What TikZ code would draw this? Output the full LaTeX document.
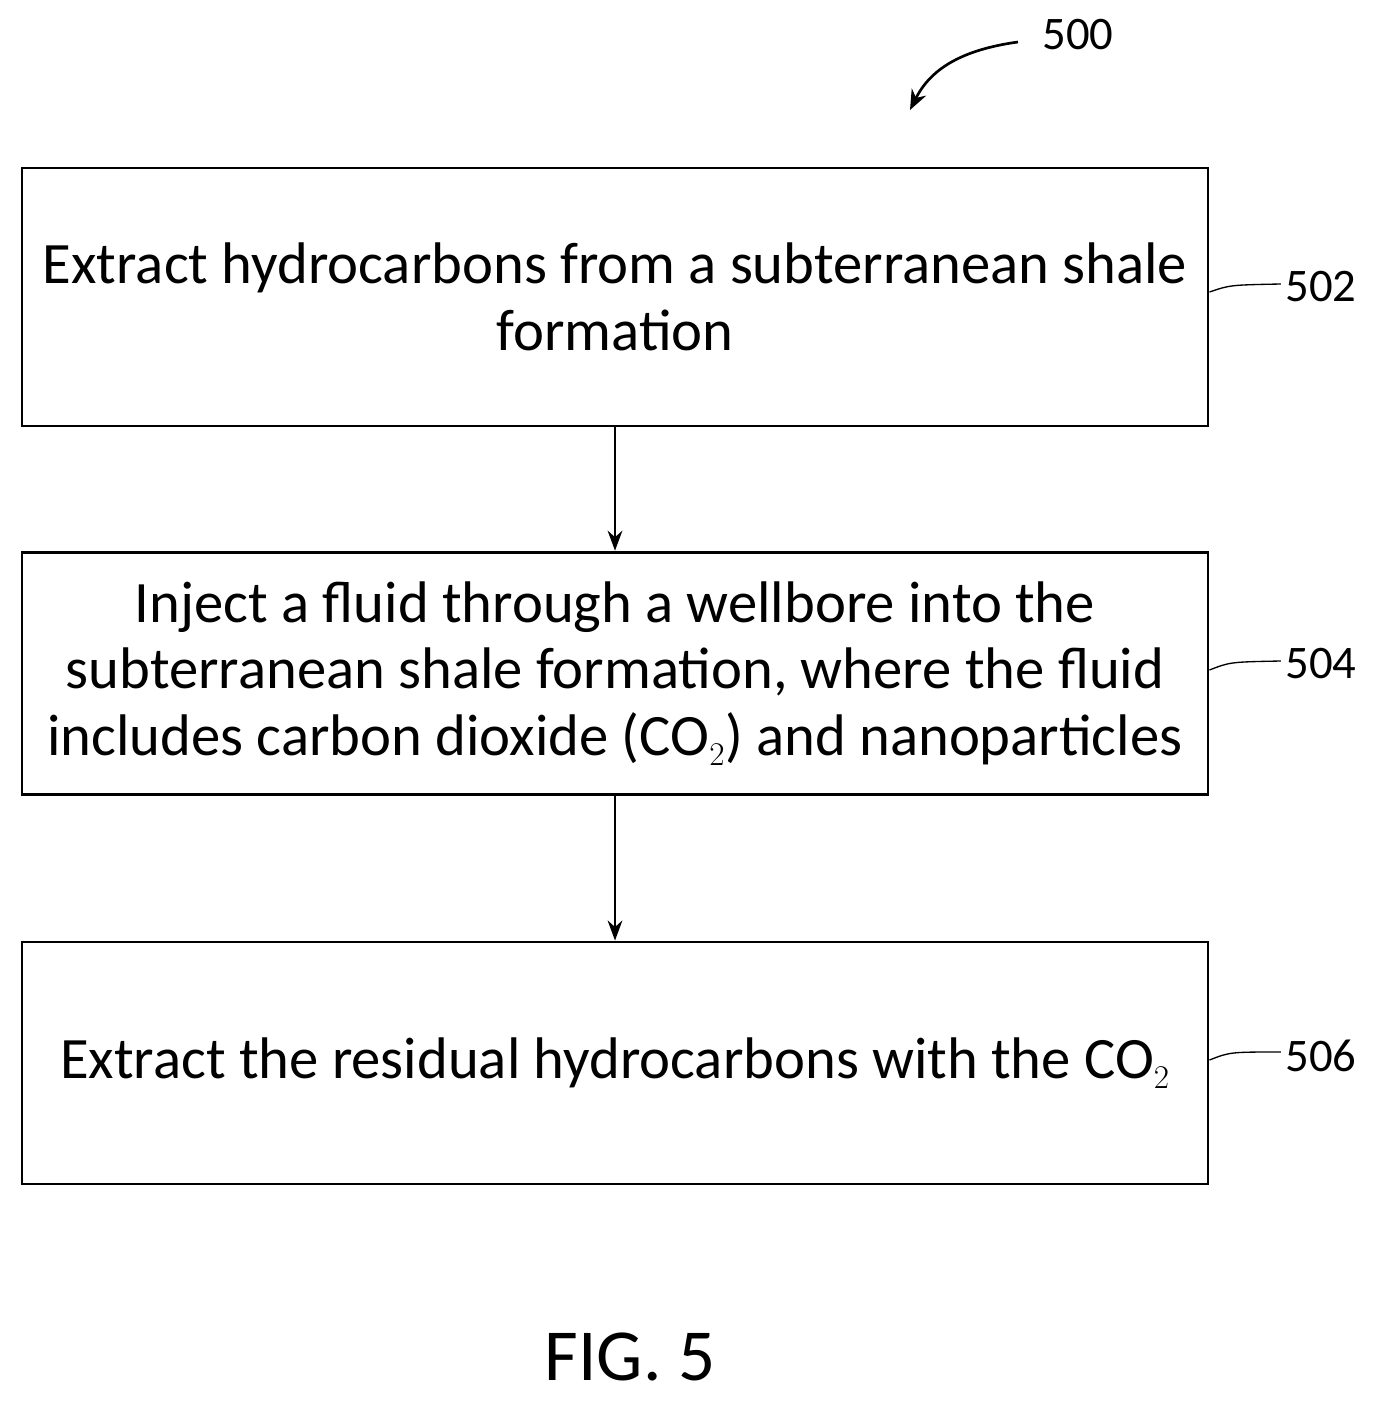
\documentclass[tikz,border=0pt]{standalone}
\usepackage{fontspec}
\setmainfont{Carlito}
\usetikzlibrary{arrows.meta}
\begin{document}
\begin{tikzpicture}[x=0.75pt,y=-0.75pt,
  box/.style={draw,line width=2.2pt,minimum width=889.5pt,align=center,font=\fontsize{44}{50}\selectfont},
  lab/.style={font=\fontsize{35}{40}\selectfont},
  arr/.style={line width=2pt,-{Stealth[length=15pt,width=11pt]}},
  lead/.style={line width=1pt}]
\useasboundingbox (0,0) rectangle (1378,1402);
\node[box,minimum height=193.5pt] (b1) at (615,297) {Extract hydrocarbons from a subterranean shale\\formation};
\node[box,minimum height=182pt] (b2) at (615,673.5) {Inject a fluid through a wellbore into the\\subterranean shale formation, where the fluid\\includes carbon dioxide (CO$_2$) and nanoparticles};
\node[box,minimum height=181.5pt] (b3) at (615,1063) {Extract the residual hydrocarbons with the CO$_2$};
\draw[arr] (b1) -- (b2);
\draw[arr] (b2) -- (b3);
\node[lab] (l2) at (1321,287) {502};
\node[lab] (l4) at (1321,664) {504};
\node[lab] (l6) at (1321,1056) {506};
\draw[lead] (b1.east|-0,292) .. controls (1230,285) .. (l2.west|-0,284);
\draw[lead] (b2.east|-0,670) .. controls (1230,662) .. (l4.west|-0,661);
\draw[lead] (b3.east|-0,1060) .. controls (1230,1052) .. (l6.west|-0,1052);
\node[lab] (l0) at (1078,35) {500};
\coordinate (t0) at (910,110);
\draw[line width=2pt,-{Stealth[length=15pt,width=12pt]}] (1018,42) .. controls (960,50) and (930,70) .. (t0);
\node[font=\fontsize{55}{60}\selectfont] (fig) at (630,1357) {FIG. 5};
\end{tikzpicture}
\end{document}
